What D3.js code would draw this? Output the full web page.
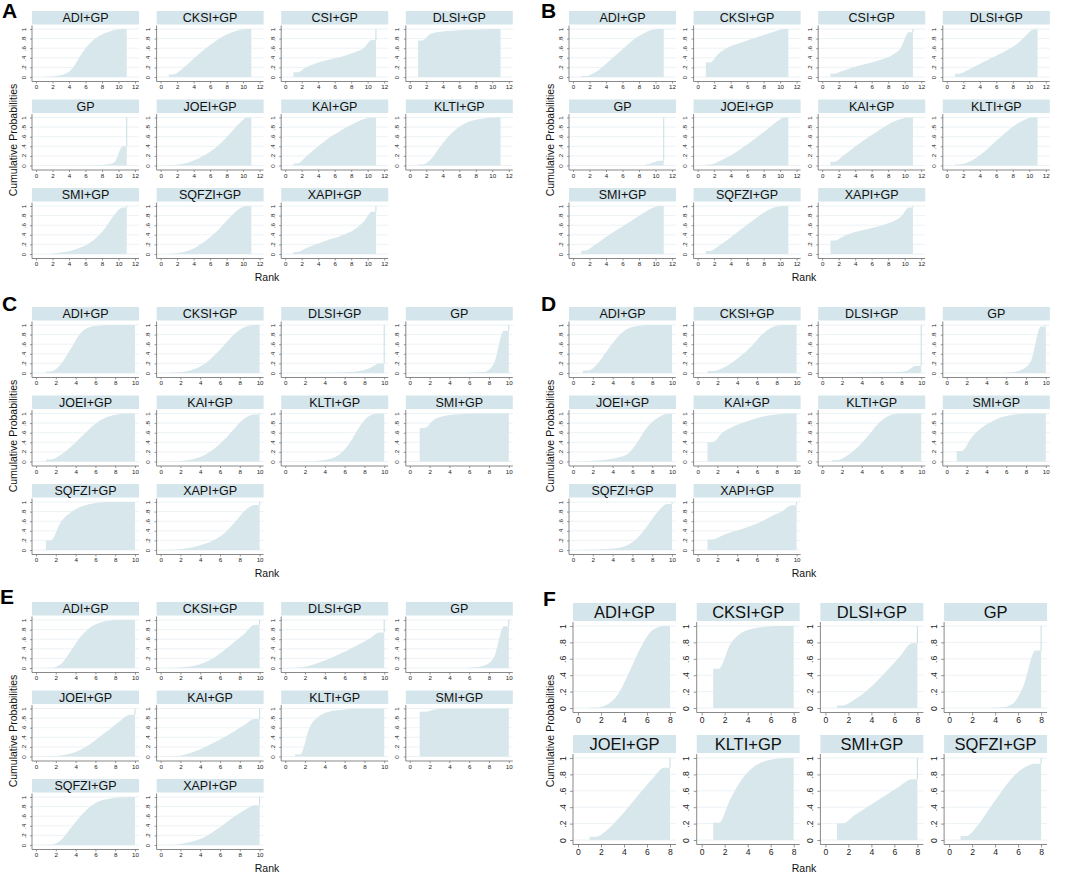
<!DOCTYPE html>
<meta charset="utf-8">
<script src="https://d3js.org/d3.v7.min.js"></script>
<body style="margin:0;background:#fff">
<div id="fig"></div>
<script>

// cumulative ranking probabilities, one value per rank (last rank is always 1)
var labels11 = ["ADI+GP", "CKSI+GP", "CSI+GP", "DLSI+GP", "GP", "JOEI+GP", "KAI+GP", "KLTI+GP", "SMI+GP", "SQFZI+GP", "XAPI+GP"];
var labels10 = ["ADI+GP", "CKSI+GP", "DLSI+GP", "GP", "JOEI+GP", "KAI+GP", "KLTI+GP", "SMI+GP", "SQFZI+GP", "XAPI+GP"];
var labels8 = ["ADI+GP", "CKSI+GP", "DLSI+GP", "GP", "JOEI+GP", "KLTI+GP", "SMI+GP", "SQFZI+GP"];

var cumA = [
  [0.005, 0.02, 0.06, 0.2, 0.48, 0.7, 0.84, 0.92, 0.98, 1, 1],
  [0.05, 0.15, 0.3, 0.46, 0.6, 0.73, 0.84, 0.92, 0.98, 1, 1],
  [0.1, 0.2, 0.27, 0.33, 0.37, 0.41, 0.46, 0.52, 0.6, 0.77, 1],
  [0.76, 0.9, 0.94, 0.96, 0.97, 0.98, 0.985, 0.99, 0.995, 1, 1],
  [0, 0, 0, 0, 0.002, 0.004, 0.008, 0.02, 0.07, 0.4, 1],
  [0.01, 0.03, 0.07, 0.14, 0.23, 0.35, 0.5, 0.68, 0.87, 1, 1],
  [0.04, 0.18, 0.33, 0.47, 0.6, 0.7, 0.8, 0.89, 0.97, 1, 1],
  [0.02, 0.12, 0.35, 0.57, 0.74, 0.86, 0.93, 0.97, 0.99, 1, 1],
  [0.002, 0.02, 0.04, 0.08, 0.14, 0.23, 0.37, 0.57, 0.82, 0.97, 1],
  [0.005, 0.03, 0.08, 0.16, 0.28, 0.42, 0.6, 0.78, 0.94, 1, 1],
  [0.04, 0.12, 0.19, 0.25, 0.31, 0.36, 0.43, 0.52, 0.67, 0.88, 1]
];
var cumB = [
  [0.02, 0.08, 0.2, 0.35, 0.5, 0.65, 0.8, 0.9, 0.98, 1, 1],
  [0.3, 0.48, 0.6, 0.67, 0.73, 0.79, 0.85, 0.9, 0.96, 1, 1],
  [0.07, 0.13, 0.19, 0.24, 0.28, 0.33, 0.38, 0.46, 0.6, 0.93, 1],
  [0.07, 0.14, 0.23, 0.32, 0.4, 0.49, 0.58, 0.69, 0.85, 0.99, 1],
  [0, 0, 0, 0, 0, 0, 0.002, 0.005, 0.05, 0.1, 1],
  [0.02, 0.08, 0.16, 0.26, 0.38, 0.5, 0.63, 0.76, 0.9, 1, 1],
  [0.08, 0.2, 0.33, 0.46, 0.58, 0.69, 0.8, 0.9, 0.97, 1, 1],
  [0.02, 0.06, 0.15, 0.28, 0.44, 0.59, 0.74, 0.87, 0.96, 1, 1],
  [0.07, 0.17, 0.29, 0.41, 0.52, 0.63, 0.74, 0.85, 0.95, 1, 1],
  [0.06, 0.16, 0.28, 0.41, 0.54, 0.67, 0.8, 0.91, 0.98, 1, 1],
  [0.28, 0.36, 0.43, 0.48, 0.52, 0.56, 0.61, 0.67, 0.77, 0.97, 1]
];
var cumC = [
  [0.03, 0.18, 0.5, 0.83, 0.96, 0.99, 1, 1, 1, 1],
  [0.01, 0.03, 0.09, 0.2, 0.38, 0.6, 0.82, 0.96, 1, 1],
  [0, 0, 0.005, 0.01, 0.01, 0.02, 0.04, 0.1, 0.2, 1],
  [0, 0, 0, 0, 0, 0.01, 0.02, 0.2, 0.88, 1],
  [0.04, 0.14, 0.3, 0.5, 0.7, 0.86, 0.95, 0.99, 1, 1],
  [0.005, 0.02, 0.06, 0.14, 0.28, 0.47, 0.7, 0.9, 0.98, 1],
  [0, 0.005, 0.02, 0.05, 0.15, 0.38, 0.72, 0.95, 1, 1],
  [0.7, 0.88, 0.95, 0.98, 0.99, 1, 1, 1, 1, 1],
  [0.2, 0.58, 0.78, 0.9, 0.96, 0.99, 1, 1, 1, 1],
  [0.005, 0.03, 0.07, 0.13, 0.22, 0.36, 0.58, 0.82, 0.94, 1]
];
var cumD = [
  [0.05, 0.2, 0.48, 0.75, 0.92, 0.98, 1, 1, 1, 1],
  [0.04, 0.1, 0.22, 0.38, 0.57, 0.8, 0.95, 1, 1, 1],
  [0, 0.002, 0.004, 0.006, 0.01, 0.015, 0.02, 0.04, 0.15, 1],
  [0, 0, 0, 0, 0, 0.01, 0.06, 0.25, 0.97, 1],
  [0.01, 0.02, 0.04, 0.08, 0.15, 0.4, 0.72, 0.9, 0.99, 1],
  [0.4, 0.6, 0.72, 0.8, 0.87, 0.93, 0.97, 0.99, 1, 1],
  [0.03, 0.12, 0.28, 0.5, 0.75, 0.93, 0.99, 1, 1, 1],
  [0.22, 0.5, 0.7, 0.83, 0.92, 0.97, 0.99, 1, 1, 1],
  [0.005, 0.01, 0.02, 0.04, 0.1, 0.25, 0.5, 0.78, 0.96, 1],
  [0.22, 0.3, 0.38, 0.44, 0.51, 0.6, 0.71, 0.8, 0.93, 1]
];
var cumE = [
  [0.005, 0.08, 0.35, 0.65, 0.85, 0.95, 0.99, 1, 1, 1],
  [0.005, 0.02, 0.05, 0.12, 0.23, 0.38, 0.55, 0.72, 0.9, 1],
  [0.01, 0.05, 0.12, 0.2, 0.29, 0.39, 0.5, 0.61, 0.74, 1],
  [0, 0, 0, 0, 0, 0.01, 0.05, 0.22, 0.87, 1],
  [0.005, 0.02, 0.06, 0.14, 0.26, 0.42, 0.58, 0.74, 0.87, 1],
  [0.005, 0.04, 0.11, 0.2, 0.3, 0.41, 0.53, 0.66, 0.78, 1],
  [0.04, 0.62, 0.85, 0.94, 0.97, 0.99, 1, 1, 1, 1],
  [0.93, 0.98, 1, 1, 1, 1, 1, 1, 1, 1],
  [0.005, 0.1, 0.35, 0.6, 0.8, 0.92, 0.97, 0.99, 1, 1],
  [0.005, 0.04, 0.09, 0.17, 0.3, 0.45, 0.6, 0.73, 0.83, 1]
];
var cumF = [
  [0.005, 0.04, 0.17, 0.45, 0.75, 0.95, 1, 1],
  [0.48, 0.78, 0.92, 0.97, 0.99, 1, 1, 1],
  [0.03, 0.1, 0.2, 0.33, 0.48, 0.63, 0.79, 1],
  [0, 0, 0, 0.005, 0.05, 0.28, 0.7, 1],
  [0.04, 0.12, 0.26, 0.42, 0.59, 0.75, 0.88, 1],
  [0.21, 0.5, 0.74, 0.89, 0.96, 0.99, 1, 1],
  [0.2, 0.3, 0.39, 0.48, 0.57, 0.66, 0.74, 1],
  [0.05, 0.18, 0.38, 0.58, 0.76, 0.88, 0.93, 1]
];

var yTicks = [0, 0.2, 0.4, 0.6, 0.8, 1];
var yTickText = ["0", ".2", ".4", ".6", ".8", "1"];
var xTicks12 = [0, 2, 4, 6, 8, 10, 12];
var xTicks10 = [0, 2, 4, 6, 8, 10];
var xTicks8 = [0, 2, 4, 6, 8];

var stripFill = "#d4e5eb";
var areaFill = "#d7e7eb";
var gridColor = "#e7eff2";
var axisColor = "#6b6b6b";

// geometry of the two kinds of panel grids
var small = { colX0: 32, colStep: 124.6, rowY0: 11, rowStep: 88.5, w: 107, stripH: 13.5,
  top1: 18, bot0: 66, axisY: 70.5, xPad0: 4, xPad1: 103, titleSize: 12.5, tickFont: 6.2, tick: 2, ylabOff: 6.5 };
var big = { colX0: 36, colStep: 123.7, rowY0: 12, rowStep: 132, w: 103, stripH: 18,
  top1: 23, bot0: 105, axisY: 109.5, xPad0: 5, xPad1: 97, titleSize: 16.5, tickFont: 8.6, tick: 3, ylabOff: 7.5 };

var panels = [
  { id: "A", ox: 0, oy: 0, lx: 2, ly: 18, L: small, labels: labels11, cum: cumA, xMax: 12, xTicks: xTicks12 },
  { id: "B", ox: 537, oy: 0, lx: 541, ly: 18, L: small, labels: labels11, cum: cumB, xMax: 12, xTicks: xTicks12 },
  { id: "C", ox: 0, oy: 296, lx: 2, ly: 311, L: small, labels: labels10, cum: cumC, xMax: 10, xTicks: xTicks10 },
  { id: "D", ox: 537, oy: 296, lx: 541, ly: 311, L: small, labels: labels10, cum: cumD, xMax: 10, xTicks: xTicks10 },
  { id: "E", ox: 0, oy: 591, lx: 0, ly: 604, L: small, labels: labels10, cum: cumE, xMax: 10, xTicks: xTicks10 },
  { id: "F", ox: 537, oy: 591, lx: 543, ly: 606, L: big, labels: labels8, cum: cumF, xMax: 8, xTicks: xTicks8 }
];

var svg = d3.select("#fig").append("svg")
  .attr("width", 1065)
  .attr("height", 877)
  .style("font-family", "'Liberation Sans', Arial, sans-serif");

function drawCell(g, L, label, vals, xMax, xTicks) {
  var N = vals.length;
  var x = d3.scaleLinear().domain([0, xMax]).range([L.xPad0, L.xPad1]);
  var y = d3.scaleLinear().domain([0, 1]).range([L.bot0, L.top1]);

  g.append("rect")
    .attr("width", L.w)
    .attr("height", L.stripH)
    .attr("fill", stripFill);
  g.append("text")
    .attr("x", L.w / 2)
    .attr("y", L.stripH / 2)
    .attr("dy", "0.36em")
    .attr("text-anchor", "middle")
    .attr("font-size", L.titleSize)
    .attr("fill", "#111")
    .text(label);

  g.selectAll(".grid")
    .data(yTicks)
    .enter().append("line")
    .attr("x1", 0).attr("x2", L.w)
    .attr("y1", function(d) { return y(d); })
    .attr("y2", function(d) { return y(d); })
    .attr("stroke", gridColor)
    .attr("stroke-width", 0.8);

  // value of rank r is shown over [r, r+1] midpoint, flat at both ends
  var pts = [[1, vals[0]]];
  for (var r = 1; r < N; r++) pts.push([r + 0.5, vals[r - 1]]);
  pts.push([N, vals[N - 2]]);

  var area = d3.area()
    .x(function(d) { return x(d[0]); })
    .y0(y(0))
    .y1(function(d) { return y(d[1]); })
    .curve(d3.curveMonotoneX);
  g.append("path")
    .datum(pts)
    .attr("d", area)
    .attr("fill", areaFill);

  if (vals[N - 1] - vals[N - 2] > 0.002) {
    g.append("line")
      .attr("x1", x(N)).attr("x2", x(N))
      .attr("y1", y(vals[N - 2])).attr("y2", y(vals[N - 1]))
      .attr("stroke", "#c9dde3")
      .attr("stroke-width", 1);
  }

  // axes
  var ya = g.append("g")
    .call(d3.axisLeft(y).tickValues(yTicks).tickSize(L.tick)
      .tickFormat(function(d, i) { return yTickText[i]; }));
  ya.select(".domain").remove();
  ya.selectAll("line").attr("stroke", axisColor).attr("stroke-width", 0.7);
  ya.selectAll("text")
    .attr("x", 0).attr("dy", 0)
    .attr("transform", "translate(" + (-L.ylabOff) + ",0) rotate(-90)")
    .attr("text-anchor", "middle")
    .attr("font-size", L.tickFont)
    .attr("font-family", "'Liberation Sans', Arial, sans-serif")
    .attr("fill", "#222");

  var xa = g.append("g")
    .attr("transform", "translate(0," + L.axisY + ")")
    .call(d3.axisBottom(x).tickValues(xTicks).tickSize(L.tick).tickPadding(1.5));
  xa.select(".domain").remove();
  xa.selectAll("line").attr("stroke", axisColor).attr("stroke-width", 0.7);
  xa.selectAll("text")
    .attr("font-size", L.tickFont)
    .attr("font-family", "'Liberation Sans', Arial, sans-serif")
    .attr("fill", "#222");

  g.append("line")
    .attr("x1", 0).attr("x2", 0)
    .attr("y1", L.stripH + 1).attr("y2", L.axisY)
    .attr("stroke", axisColor).attr("stroke-width", 0.8);
  g.append("line")
    .attr("x1", 0).attr("x2", L.w)
    .attr("y1", L.axisY).attr("y2", L.axisY)
    .attr("stroke", axisColor).attr("stroke-width", 0.8);
}

panels.forEach(function(p) {
  var L = p.L;
  var pg = svg.append("g").attr("transform", "translate(" + p.ox + "," + p.oy + ")");

  p.labels.forEach(function(lab, i) {
    var col = i % 4, row = Math.floor(i / 4);
    var cg = pg.append("g")
      .attr("transform", "translate(" + (L.colX0 + col * L.colStep) + "," + (L.rowY0 + row * L.rowStep) + ")");
    drawCell(cg, L, lab, p.cum[i], p.xMax, p.xTicks);
  });

  pg.append("text")
    .attr("transform", "translate(13,140) rotate(-90)")
    .attr("dy", "0.35em")
    .attr("text-anchor", "middle")
    .attr("font-size", 10.5)
    .attr("fill", "#111")
    .text("Cumulative Probabilities");

  pg.append("text")
    .attr("x", 267)
    .attr("y", 281)
    .attr("text-anchor", "middle")
    .attr("font-size", 10.5)
    .attr("fill", "#111")
    .text("Rank");

  svg.append("text")
    .attr("x", p.lx)
    .attr("y", p.ly)
    .attr("font-size", 21)
    .attr("font-weight", "bold")
    .attr("fill", "#000")
    .text(p.id);
});

</script>
</body>
